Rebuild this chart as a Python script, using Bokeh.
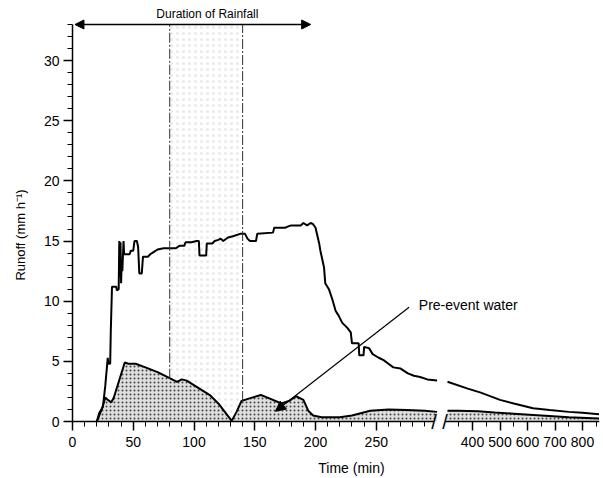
import math
from bokeh.plotting import figure
from bokeh.models import Range1d, LinearAxis, FixedTicker, Label, Arrow, NormalHead, ColumnDataSource
from bokeh.embed import file_html
from bokeh.resources import INLINE

# ---- data (time in min, runoff in mm/h) ----
total_t_left = [20, 22, 25, 27, 29, 29.5, 31, 31.5, 32.5, 36, 36.5, 38, 38.5, 39, 39.5, 40, 40.5, 41, 42, 42.5,
                47, 48, 50, 51, 53, 54, 55, 57, 58, 62, 64, 67, 70, 75, 85, 88, 92, 93, 98, 102, 104, 104.5,
                110, 110.5, 115, 117, 120, 122, 124, 128, 132, 138, 142, 144, 146, 151, 152, 165, 166, 175,
                177, 180, 188, 190, 193, 196, 198, 200, 203, 204, 207, 208, 211, 214, 216.5, 219, 222, 226,
                229, 230, 235.5, 236, 239.5, 240, 244, 247, 252, 256, 260, 264, 270, 276, 281, 286, 292, 300]
total_q_left = [0, 0.7, 1.2, 3.0, 5.3, 4.8, 4.8, 7.5, 11.2, 11.2, 10.9, 11.0, 15.0, 12.0, 14.9, 11.5, 13.5, 12.5, 15.0, 13.9,
                13.9, 14.2, 14.2, 15.0, 15.0, 14.5, 12.3, 12.3, 13.7, 13.7, 13.9, 14.1, 14.3, 14.4, 14.4, 14.6, 14.6, 14.9, 14.9, 15.0, 15.0, 13.8,
                13.8, 14.8, 14.8, 15.0, 15.1, 15.2, 15.0, 15.3, 15.4, 15.6, 15.6, 15.2, 15.0, 15.0, 15.6, 15.7, 16.1, 16.1,
                16.2, 16.3, 16.3, 16.5, 16.3, 16.5, 16.4, 16.1, 14.8, 14.2, 12.8, 11.5, 11.0, 10.1, 9.2, 8.8, 8.2, 7.8,
                7.4, 6.5, 6.5, 5.5, 5.5, 6.2, 6.1, 5.6, 5.3, 5.1, 4.8, 4.5, 4.4, 4.0, 3.8, 3.7, 3.5, 3.4]
total_t_right = [309, 380, 430, 500, 550, 620, 680, 750, 800, 860]
total_q_right = [3.3, 2.75, 2.4, 1.8, 1.5, 1.1, 0.95, 0.8, 0.72, 0.6]

pre_t_left = [20, 24, 27, 29, 32, 34, 43, 46, 52, 60, 70, 80, 86, 90, 94, 113, 120, 131, 135, 139, 145, 155,
              160, 172, 178, 184, 190, 194, 198, 205, 220, 230, 245, 260, 275, 290, 300]
pre_q_left = [0, 1.0, 2.0, 1.8, 1.6, 2.0, 4.9, 4.8, 4.8, 4.5, 4.1, 3.6, 3.3, 3.5, 3.4, 2.2, 1.5, 0.05, 0.8, 1.7, 1.9, 2.2,
              2.0, 1.5, 1.7, 2.1, 1.8, 0.9, 0.5, 0.35, 0.35, 0.5, 0.9, 1.0, 0.95, 0.9, 0.8]
pre_t_right = [309, 350, 420, 480, 550, 650, 750, 860]
pre_q_right = [0.9, 0.9, 0.85, 0.75, 0.65, 0.5, 0.35, 0.25]

rain_start, rain_end = 80, 140          # dash-dot markers
rain_arrow = (2, 196)                   # duration of rainfall
y_ticks = [0, 5, 10, 15, 20, 25, 30]
x_ticks_left = [0, 50, 100, 150, 200, 250]
x_ticks_right = [400, 500, 600, 700, 800]

FONT = "Liberation Sans"

p = figure(width=603, height=478, output_backend="svg", toolbar_location=None,
           x_range=Range1d(-59.26, 433.7), y_range=Range1d(-4.738, 34.995),
           min_border=0, min_border_right=4)
p.extra_x_ranges = {"right": Range1d(-1316.4, 861.8)}
p.outline_line_color = None
p.xgrid.visible = False
p.ygrid.visible = False
p.background_fill_color = "white"

# rainfall band (sparse stipple)
p.quad(left=[rain_start], right=[rain_end], bottom=[0], top=[33], fill_color=None, line_color=None,
       hatch_pattern=".", hatch_color="#d0d0d0", hatch_scale=6, hatch_alpha=0.45)

# pre-event water fill
src_pl = ColumnDataSource(dict(t=pre_t_left, q=pre_q_left, z=[0] * len(pre_t_left)))
src_pr = ColumnDataSource(dict(t=pre_t_right, q=pre_q_right, z=[0] * len(pre_t_right)))
for src, rn in ((src_pl, "default"), (src_pr, "right")):
    p.varea(x="t", y1="z", y2="q", source=src, x_range_name=rn, fill_color="#dedede",
            hatch_pattern=".", hatch_color="#444444", hatch_scale=4, hatch_weight=1)
    p.line(x="t", y="q", source=src, x_range_name=rn, line_color="black", line_width=2)

# total runoff
p.line(total_t_left, total_q_left, line_color="black", line_width=2)
p.line(total_t_right, total_q_right, line_color="black", line_width=2, x_range_name="right")

# dash-dot lines
p.segment(x0=[rain_start, rain_end], y0=[3.55, 1.7], x1=[rain_start, rain_end], y1=[33, 33],
          line_color="#333333", line_width=1, line_dash="10 2 2 2")


def style_axis(ax):
    ax.axis_line_width = 1.5
    ax.major_tick_line_width = 1.5
    ax.minor_tick_line_width = 1
    ax.major_tick_in = 0
    ax.major_tick_out = 9
    ax.minor_tick_in = 0
    ax.minor_tick_out = 5
    ax.major_label_text_font = FONT
    ax.major_label_text_font_size = "14px"
    ax.major_label_text_color = "black"


xa = p.xaxis[0]
style_axis(xa)
xa.ticker = FixedTicker(ticks=x_ticks_left, minor_ticks=list(range(10, 300, 10)))
xa.bounds = (0, 297)
xa.fixed_location = 0
xa.major_label_standoff = 6

ya = p.yaxis[0]
style_axis(ya)
ya.ticker = FixedTicker(ticks=y_ticks, minor_ticks=list(range(1, 34)))
ya.bounds = (0, 33)
ya.fixed_location = 0
ya.major_label_standoff = 4

ax2 = LinearAxis(x_range_name="right", bounds=(302, 862), fixed_location=0,
                 ticker=FixedTicker(ticks=x_ticks_right, minor_ticks=[350, 450, 550, 650, 750, 850]))
style_axis(ax2)
ax2.major_label_standoff = 6
p.add_layout(ax2, "below")

# axis break marks
for xb in (297.5, 306.5):
    p.add_layout(Label(x=xb, y=0, text="/", text_font=FONT, text_font_size="20px", text_color="black",
                       text_align="center", text_baseline="middle"))

# titles / annotations
p.add_layout(Label(x=111, y=33.9, text="Duration of Rainfall", text_font=FONT, text_font_size="12px",
                   text_color="black", text_align="center", text_baseline="middle"))
p.add_layout(Label(x=229.6, y=-3.9, text="Time (min)", text_font=FONT, text_font_size="14px",
                   text_color="black", text_align="center", text_baseline="middle"))
p.add_layout(Label(x=-42.8, y=15.5, angle=math.pi / 2, text="Runoff (mm h\u207b\u00b9)", text_font=FONT,
                   text_font_size="13px", text_color="black", text_align="center", text_baseline="middle"))
p.add_layout(Label(x=285, y=9.7, text="Pre-event water", text_font=FONT, text_font_size="14px",
                   text_color="black", text_align="left", text_baseline="middle"))

p.add_layout(Arrow(x_start=rain_arrow[0], x_end=rain_arrow[1], y_start=33, y_end=33, line_width=1.5,
                   start=NormalHead(size=9, fill_color="black", line_color="black"),
                   end=NormalHead(size=9, fill_color="black", line_color="black")))
p.add_layout(Arrow(x_start=277, y_start=9.5, x_end=167, y_end=0.85, line_width=1.2,
                   end=NormalHead(size=10, fill_color="black", line_color="black")))

open("out.html", "w").write(file_html(p, INLINE))
